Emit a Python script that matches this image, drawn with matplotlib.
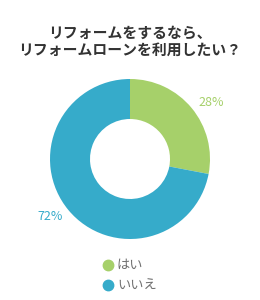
import matplotlib.pyplot as plt
from matplotlib.lines import Line2D

plt.rcParams['font.family'] = ['Noto Sans CJK JP', 'DejaVu Sans']

# Data
labels = ['はい', 'いいえ']
values = [28, 72]
colors = ['#a6d06a', '#36abca']
title = 'リフォームをするなら、\nリフォームローンを利用したい？'

fig = plt.figure(figsize=(2.6, 3.0), dpi=100)
fig.patch.set_facecolor('white')

# pie axes: center (130, 159), radius 80 px
ax = fig.add_axes([(130 - 85) / 260, 1 - (159 + 85) / 300, 170 / 260, 170 / 300])
r = 80 / 85
wedges, _ = ax.pie(values, colors=colors, startangle=90, counterclock=False,
                   radius=r, wedgeprops=dict(width=r * 0.5, linewidth=0))
ax.set_xlim(-1, 1)
ax.set_ylim(-1, 1)
ax.set_aspect('equal')
ax.axis('off')

# percent labels
fig.text(211 / 260, 1 - 103 / 300, f'{values[0]}%', color=colors[0],
         fontsize=9, ha='center', va='center')
fig.text(50 / 260, 1 - 217 / 300, f'{values[1]}%', color=colors[1],
         fontsize=9, ha='center', va='center')

# title
fig.text(0.5, 1 - 41 / 300, title, ha='center', va='center', fontsize=10.7,
         fontweight='bold', color='#333333', linespacing=1.05)

# legend
for i, (lab, col) in enumerate(zip(labels, colors)):
    y = 1 - (265 + 20 * i) / 300
    fig.add_artist(Line2D([108 / 260], [y], marker='o', markersize=7.5,
                          color=col, transform=fig.transFigure))
    fig.text(117 / 260, y, lab, color='#707070', fontsize=9.5, va='center', ha='left')

fig.savefig('out.png', dpi=100)
